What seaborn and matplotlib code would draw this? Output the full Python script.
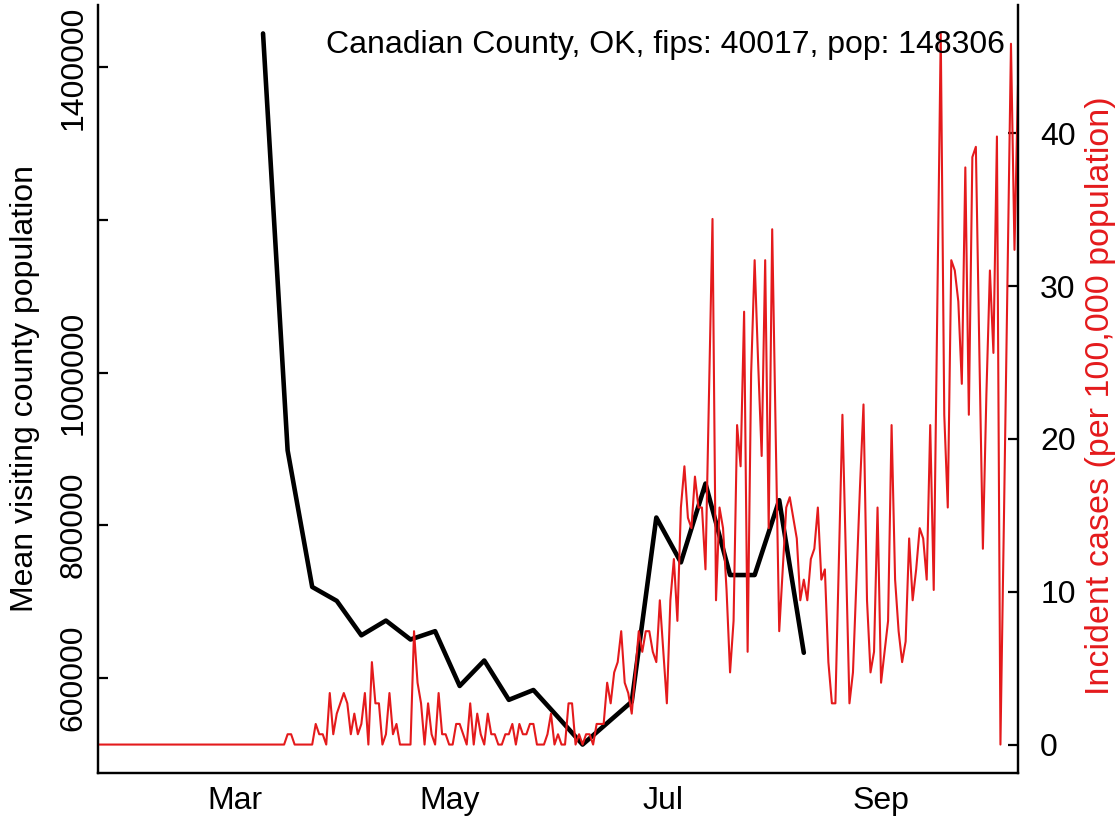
import numpy as np
import pandas as pd
import matplotlib
matplotlib.use("Agg")
import matplotlib.pyplot as plt
import matplotlib.dates as mdates
import seaborn as sns

county_label = "Canadian County, OK, fips: 40017, pop: 148306"
population = 148306

# weekly mean visiting county population (Mondays from 2020-03-09)
visit_start = "2020-03-09"
visit_pop = [1444500, 898000, 719000, 700700, 655600, 674900, 650100, 661000,
             589200, 622600, 571000, 583900, 548400, 512400, 540500, 568600,
             810000, 751200, 854500, 734600, 734600, 832700, 632700]

# daily new case counts, 2020-01-22 .. 2020-10-10
case_start = "2020-01-22"
daily_cases = [
    0, 0, 0, 0, 0, 0, 0, 0, 0, 0,
    0, 0, 0, 0, 0, 0, 0, 0, 0, 0,
    0, 0, 0, 0, 0, 0, 0, 0, 0, 0,
    0, 0, 0, 0, 0, 0, 0, 0, 0, 0,
    0, 0, 0, 0, 0, 0, 0, 0, 0, 0,
    0, 0, 0, 0, 1, 1, 0, 0, 0, 0,
    0, 0, 2, 1, 1, 0, 5, 1, 3, 4,
    5, 4, 1, 3, 1, 2, 5, 0, 8, 4,
    4, 0, 1, 5, 1, 2, 0, 0, 0, 0,
    11, 6, 4, 0, 4, 1, 0, 5, 1, 1,
    0, 0, 2, 2, 1, 0, 4, 0, 3, 1,
    0, 3, 1, 1, 0, 0, 1, 1, 2, 0,
    2, 1, 1, 2, 2, 0, 0, 0, 1, 3,
    0, 1, 0, 0, 4, 4, 0, 1, 0, 1,
    1, 0, 2, 2, 2, 6, 4, 7, 8, 11,
    6, 5, 3, 7, 11, 9, 11, 11, 9, 8,
    14, 9, 4, 14, 18, 12, 23, 27, 22, 21,
    26, 23, 23, 17, 34, 51, 14, 23, 21, 15,
    7, 12, 31, 27, 42, 9, 36, 47, 37, 28,
    47, 21, 50, 30, 11, 17, 23, 24, 22, 20,
    14, 16, 14, 18, 19, 23, 16, 17, 8, 4,
    4, 18, 32, 18, 4, 7, 16, 25, 33, 14,
    7, 9, 23, 6, 9, 12, 31, 16, 11, 8,
    10, 20, 14, 17, 21, 20, 16, 31, 15, 42,
    69, 32, 23, 47, 46, 43, 35, 56, 32, 57,
    58, 38, 19, 34, 46, 38, 59, 0, 22, 45,
    68, 48, 64,
]

left_ticks = [600000, 800000, 1000000, 1200000, 1400000]
left_labels = ["600000", "800000", "1000000", "", "1400000"]
right_ticks = [0, 10, 20, 30, 40]

RED = "#E41A1C"


def pad_range(vals, frac=0.04):
    lo, hi = float(np.min(vals)), float(np.max(vals))
    d = (hi - lo) * frac
    return lo - d, hi + d


visits = pd.DataFrame({
    "date": pd.date_range(visit_start, periods=len(visit_pop), freq="7D"),
    "pop": visit_pop,
})
cases = pd.DataFrame({
    "date": pd.date_range(case_start, periods=len(daily_cases), freq="D"),
    "count": daily_cases,
})
cases["rate"] = cases["count"] / population * 100000

sns.set_style("white")
plt.rcParams["font.family"] = ["Liberation Sans", "DejaVu Sans"]
plt.rcParams.update({"text.color": "black", "axes.labelcolor": "black",
                     "xtick.color": "black", "ytick.color": "black"})
FS = 23

fig = plt.figure(figsize=(11.19, 8.22), dpi=100)
ax = fig.add_axes([98 / 1119, 49 / 822, 920 / 1119, 768 / 822])

sns.lineplot(data=visits, x="date", y="pop", ax=ax, color="black", lw=3.3)
ax.set_ylim(*pad_range(visit_pop))
ax.set_xlim(cases["date"].iloc[0], cases["date"].iloc[-1])

ax2 = ax.twinx()
sns.lineplot(data=cases, x="date", y="rate", ax=ax2, color=RED, lw=1.5)
ax2.set_ylim(*pad_range(cases["rate"]))
ax2.set_xlim(cases["date"].iloc[0], cases["date"].iloc[-1])

for a in (ax, ax2):
    a.spines["top"].set_visible(False)
    for s in ("left", "bottom", "right"):
        a.spines[s].set_linewidth(1.6)
        a.spines[s].set_color("black")

ax.xaxis.set_major_locator(mdates.MonthLocator(bymonth=[3, 5, 7, 9]))
ax.xaxis.set_major_formatter(mdates.DateFormatter("%b"))
ax.tick_params(axis="x", direction="in", length=7, width=1.6, labelsize=FS, pad=9)

ax.set_yticks(left_ticks)
ax.set_yticklabels(left_labels, rotation=90, va="center")
ax.tick_params(axis="y", direction="in", length=7, width=1.6, labelsize=FS, pad=7)

ax2.set_yticks(right_ticks)
ax2.tick_params(axis="y", direction="in", length=7, width=1.6, labelsize=FS, pad=16)

ax.set_xlabel("")
ax.set_ylabel("")
ax2.set_ylabel("")
fig.text(25 / 1119, 1 - 389 / 822, "Mean visiting county population",
         rotation=90, ha="center", va="center", fontsize=FS)
fig.text(1100 / 1119, 1 - 396 / 822, "Incident cases (per 100,000 population)",
         rotation=90, ha="center", va="center", fontsize=24.5, color=RED)

fig.text(1005 / 1119, 1 - 45 / 822, county_label, ha="right", va="center", fontsize=FS)

fig.savefig("out.png", dpi=100)
